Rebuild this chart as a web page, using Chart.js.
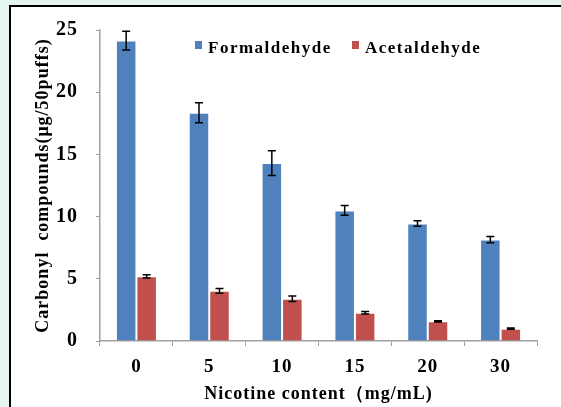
<!DOCTYPE html>
<html>
<head>
<meta charset="utf-8">
<script src="https://cdn.jsdelivr.net/npm/chart.js@4/dist/chart.umd.min.js"></script>
<style>
  html, body { margin: 0; padding: 0; }
  body { width: 561px; height: 407px; background: #e4f6ef; position: relative; overflow: hidden; }
  #frame { position: absolute; left: 9px; top: 5px; width: 560px; height: 410px;
           border-top: 2px solid #000; border-left: 2px solid #000; background: #fff; }
  #wrap { position: absolute; left: 0; top: 0; width: 561px; height: 407px; }
</style>
</head>
<body>
<div id="frame"></div>
<div id="wrap"><canvas id="c" width="561" height="407"></canvas></div>
<script>
// Nicotine content (mg/mL)
const categories = ['0', '5', '10', '15', '20', '30'];
// Mean yields, µg per 50 puffs, with standard deviations
const formaldehyde = [24.15, 18.35, 14.3, 10.5, 9.45, 8.15];
const formaldehydeErr = [0.75, 0.8, 1.0, 0.4, 0.22, 0.25];
const acetaldehyde = [5.2, 4.03, 3.4, 2.27, 1.58, 0.99];
const acetaldehydeErr = [0.13, 0.19, 0.22, 0.1, 0.05, 0.05];
const yTicks = [0, 5, 10, 15, 20, 25];

const BLUE = '#4f81bd';
const RED = '#c0504d';
const AXIS = '#a0a0a0';
const FONT = '"Liberation Serif", "Times New Roman", serif';

const errors = [formaldehydeErr, acetaldehydeErr];

// Slightly spaced lettering for all axis text
const spacedText = {
  id: 'spacedText',
  beforeDraw(chart) { if ('letterSpacing' in chart.ctx) chart.ctx.letterSpacing = '1px'; },
  afterDraw(chart) { if ('letterSpacing' in chart.ctx) chart.ctx.letterSpacing = '0px'; }
};

// Whisker bars with caps on top of every bar
const errorBars = {
  id: 'errorBars',
  afterDatasetsDraw(chart) {
    const { ctx, scales: { y } } = chart;
    ctx.save();
    ctx.strokeStyle = '#000';
    ctx.lineWidth = 1.5;
    chart.data.datasets.forEach((ds, di) => {
      const meta = chart.getDatasetMeta(di);
      meta.data.forEach((bar, i) => {
        const v = ds.data[i], e = errors[di][i];
        const x = bar.x;
        const yt = y.getPixelForValue(v + e);
        const yb = y.getPixelForValue(v - e);
        ctx.beginPath();
        ctx.moveTo(x, yt); ctx.lineTo(x, yb);
        ctx.moveTo(x - 4, yt); ctx.lineTo(x + 4, yt);
        ctx.moveTo(x - 4, yb); ctx.lineTo(x + 4, yb);
        ctx.stroke();
      });
    });
    ctx.restore();
  }
};

// Legend placed inside the plot, next to the tallest bar
const insideLegend = {
  id: 'insideLegend',
  afterDraw(chart) {
    const { ctx } = chart;
    const items = [
      { x: 195, text: chart.data.datasets[0].label, color: BLUE },
      { x: 352, text: chart.data.datasets[1].label, color: RED }
    ];
    ctx.save();
    ctx.font = 'bold 17px ' + FONT;
    ctx.textBaseline = 'alphabetic';
    ctx.textAlign = 'left';
    if ('letterSpacing' in ctx) ctx.letterSpacing = '1.5px';
    items.forEach(it => {
      ctx.fillStyle = it.color;
      ctx.fillRect(it.x, 41, 7, 8);
      ctx.fillStyle = '#000';
      ctx.fillText(it.text, it.x + 13, 53);
    });
    ctx.restore();
  }
};

new Chart(document.getElementById('c'), {
  type: 'bar',
  data: {
    labels: categories,
    datasets: [
      { label: 'Formaldehyde', data: formaldehyde, backgroundColor: BLUE,
        borderColor: 'rgba(255,255,255,0.35)', borderWidth: 1 },
      { label: 'Acetaldehyde', data: acetaldehyde, backgroundColor: RED,
        borderColor: 'rgba(255,255,255,0.35)', borderWidth: 1 }
    ]
  },
  options: {
    responsive: false,
    animation: false,
    events: [],
    layout: { padding: { left: 0, top: 20, right: 24, bottom: 0 } },
    datasets: { bar: { categoryPercentage: 0.563, barPercentage: 1 } },
    plugins: { legend: { display: false }, tooltip: { enabled: false } },
    scales: {
      x: {
        grid: { display: true, drawOnChartArea: false, offset: true, color: AXIS, tickLength: 5, lineWidth: 1 },
        border: { color: AXIS, width: 1.5 },
        ticks: { color: '#000', font: { family: FONT, size: 19, weight: 'bold' }, padding: 10 },
        title: { display: true, text: 'Nicotine content（mg/mL)', color: '#000',
                 font: { family: FONT, size: 18, weight: 'bold' }, padding: { top: 0, bottom: 2 } },
        afterFit(s) { s.height = 66; }
      },
      y: {
        min: 0, max: 25,
        afterBuildTicks(s) { s.ticks = yTicks.map(v => ({ value: v })); },
        grid: { display: true, drawOnChartArea: false, color: AXIS, tickLength: 4, lineWidth: 1 },
        border: { color: AXIS, width: 1.5 },
        ticks: { color: '#000', font: { family: FONT, size: 20, weight: 'bold' }, padding: 18 },
        title: { display: true, text: 'Carbonyl  compounds(μg/50puffs)', color: '#000',
                 font: { family: FONT, size: 18, weight: 'bold' }, padding: { top: 33, bottom: 0 } },
        afterFit(s) { s.width = 100; }
      }
    }
  },
  plugins: [spacedText, errorBars, insideLegend]
});
</script>
</body>
</html>
